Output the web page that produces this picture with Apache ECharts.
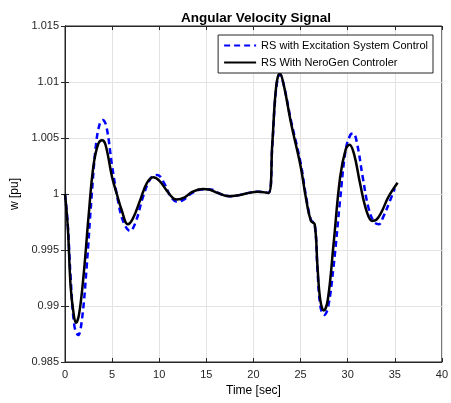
<!DOCTYPE html>
<html>
<head>
<meta charset="utf-8">
<script src="https://cdn.jsdelivr.net/npm/echarts@6/dist/echarts.min.js"></script>
<style>
  html, body { margin: 0; padding: 0; background: #fff; }
  #chart { width: 451px; height: 403px; }
</style>
</head>
<body>
<div id="chart"></div>
<script>
// time [sec] / w [pu]
const excTime = [0, 0.3, 0.6, 1.0, 1.4, 1.8, 2.3, 2.8, 3.3, 3.7, 4.0, 4.4, 5.0, 5.6, 6.2, 6.9, 7.5, 8.3, 9.1, 9.8,
  10.5, 11.2, 11.9, 12.6, 13.5, 14.5, 15.5, 16.5, 17.5, 18.5, 19.5, 20.5, 21.6, 22.0, 22.4, 22.8, 23.2, 24.0, 25.0,
  25.6, 26.1, 26.5, 26.8, 27.1, 27.5, 27.9, 28.5, 29.2, 29.8, 30.3, 30.6, 31.0, 31.6, 32.2, 32.8, 33.3, 33.8, 34.4, 35.0]
const excW = [1.0, 0.9972, 0.9925, 0.9882, 0.9874, 0.9888, 0.9935, 0.9995, 1.0045, 1.0063, 1.0066, 1.0060, 1.0025,
  0.9995, 0.9975, 0.9967, 0.9975, 0.9998, 1.0014, 1.0017, 1.0010, 0.9998, 0.9993, 0.9995, 1.0001, 1.0004, 1.0004,
  1.0000, 0.9998, 0.9999, 1.0001, 1.0002, 1.0001, 1.0043, 1.0093, 1.0107, 1.0098, 1.0065, 1.0028, 0.9997, 0.9977,
  0.9973, 0.9932, 0.9900, 0.9892, 0.9898, 0.9935, 0.9995, 1.0040, 1.0053, 1.0054, 1.0045, 1.0015, 0.9988, 0.9975,
  0.9973, 0.9980, 0.9992, 1.0005]

const neroTime = [0, 0.3, 0.6, 0.9, 1.16, 1.5, 2.0, 2.5, 3.0, 3.5, 3.93, 4.3, 5.0, 5.5, 6.0, 6.67, 7.2, 8.0, 8.7, 9.37,
  10.0, 10.8, 11.5, 11.9, 12.7, 13.5, 14.6, 15.3, 16.2, 17.4, 18.5, 19.5, 20.5, 21.6, 22.0, 22.4, 22.8, 23.2, 24.0,
  25.0, 25.6, 26.1, 26.5, 26.8, 27.1, 27.47, 27.9, 28.5, 29.2, 29.8, 30.2, 30.7, 31.3, 32.0, 32.6, 33.05, 33.6, 34.3, 35.3]
const neroW = [1.0, 0.9970, 0.9917, 0.9894, 0.9885, 0.9893, 0.9930, 0.9980, 1.0024, 1.0044, 1.0048, 1.0044, 1.0015,
  1.0000, 0.9986, 0.9973, 0.9978, 0.9995, 1.0010, 1.0015, 1.0012, 1.0003, 0.9996, 0.9995, 0.9997, 1.0002, 1.00045,
  1.0004, 1.0001, 0.9998, 0.9999, 1.0001, 1.0002, 1.0001, 1.0045, 1.0095, 1.0108, 1.0098, 1.0063, 1.0025, 0.9995,
  0.9976, 0.9973, 0.9935, 0.9905, 0.9896, 0.9906, 0.9955, 1.0015, 1.0040, 1.0044, 1.0035, 1.0010, 0.9985, 0.9976,
  0.9977, 0.9984, 0.9997, 1.0010]

const seriesNames = ['RS with Excitation System Control', 'RS With NeroGen Controler']

const chart = echarts.init(document.getElementById('chart'))
const font = 'Helvetica, Arial, "Liberation Sans", sans-serif'
const axisColor = '#262626'

const option = {
  animation: false,
  textStyle: { fontFamily: font },
  title: {
    text: 'Angular Velocity Signal',
    left: 176, top: 6,
    textStyle: { fontSize: 13.5, fontWeight: 'bold', color: '#000', fontFamily: font }
  },
  legend: {
    orient: 'vertical',
    right: 18, top: 35,
    padding: [5, 5, 5, 5],
    itemGap: 6,
    itemWidth: 32, itemHeight: 10,
    borderColor: axisColor, borderWidth: 1, borderRadius: 0,
    backgroundColor: '#fff',
    itemStyle: { opacity: 0 },
    textStyle: { fontSize: 11, color: '#000', fontFamily: font },
    data: seriesNames
  },
  grid: {
    left: 65, right: 6, top: 26, bottom: 41,
    show: true, borderColor: axisColor, borderWidth: 1, backgroundColor: '#fff'
  },
  xAxis: [{
    type: 'value', min: 0, max: 40, interval: 5,
    name: 'Time [sec]', nameLocation: 'middle', nameGap: 23,
    nameTextStyle: { fontSize: 12, color: '#000' },
    axisLine: { show: true, onZero: false, lineStyle: { color: axisColor } },
    axisTick: { show: true, inside: true, length: 4, lineStyle: { color: axisColor } },
    axisLabel: { fontSize: 11, color: axisColor, margin: 7 },
    splitLine: { show: true, lineStyle: { color: '#e3e3e3' } }
  }, {
    type: 'value', min: 0, max: 40, interval: 5, position: 'top',
    axisLine: { show: true, lineStyle: { color: axisColor } },
    axisTick: { show: true, inside: true, length: 4, lineStyle: { color: axisColor } },
    axisLabel: { show: false }, splitLine: { show: false }
  }],
  yAxis: [{
    type: 'value', min: 0.985, max: 1.015, interval: 0.005,
    name: 'w [pu]', nameLocation: 'middle', nameGap: 35, nameRotate: 90,
    nameTextStyle: { fontSize: 12, color: '#000' },
    axisLine: { show: true, onZero: false, lineStyle: { color: axisColor } },
    axisTick: { show: true, inside: true, length: 4, lineStyle: { color: axisColor } },
    axisLabel: { fontSize: 11, color: axisColor, margin: 6, formatter: v => String(+v.toFixed(3)) },
    splitLine: { show: true, lineStyle: { color: '#e3e3e3' } }
  }, {
    type: 'value', min: 0.985, max: 1.015, interval: 0.005, position: 'right',
    axisLine: { show: true, lineStyle: { color: axisColor } },
    axisTick: { show: true, inside: true, length: 4, lineStyle: { color: axisColor } },
    axisLabel: { show: false }, splitLine: { show: false }
  }],
  series: [{
    name: seriesNames[0],
    type: 'line',
    smooth: 0.4,
    showSymbol: false, symbol: 'none',
    lineStyle: { color: '#0000ff', width: 2.5, type: [6, 4] },
    itemStyle: { color: '#0000ff' },
    data: excTime.map((t, i) => [t, excW[i]])
  }, {
    name: seriesNames[1],
    type: 'line',
    smooth: 0.4,
    showSymbol: false, symbol: 'none',
    lineStyle: { color: '#000', width: 2.5 },
    itemStyle: { color: '#000' },
    data: neroTime.map((t, i) => [t, neroW[i]])
  }]
}

chart.setOption(option)
</script>
</body>
</html>
